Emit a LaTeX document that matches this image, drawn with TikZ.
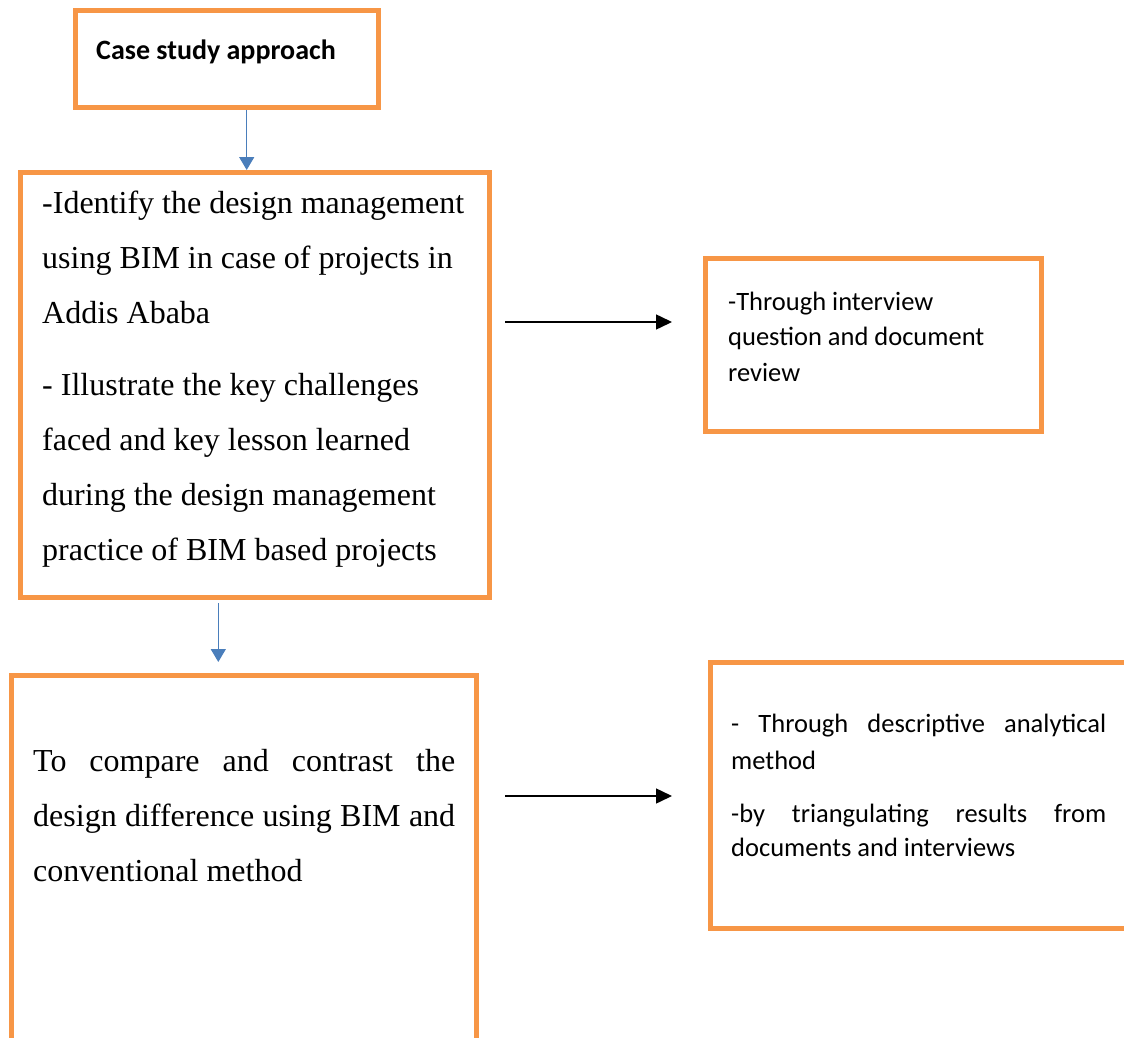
\documentclass[tikz,border=0pt]{standalone}
\usepackage{fontspec}
\setmainfont{Liberation Serif}
\newfontfamily\calibrifont{Carlito}
\usetikzlibrary{arrows.meta}
\definecolor{boxorange}{HTML}{F79646}
\definecolor{flowblue}{HTML}{4A7EBB}

\begin{document}
\begin{tikzpicture}[x=1pt,y=-1pt,
  obox/.style={draw=boxorange, line width=5pt, fill=white, rectangle, inner sep=0pt},
  serifline/.style={anchor=base west, inner sep=0pt, font=\fontsize{32}{38}\selectfont},
  sansline/.style={anchor=base west, inner sep=0pt, font=\calibrifont\fontsize{26.5}{32}\selectfont},
  headline/.style={anchor=base west, inner sep=0pt, font=\calibrifont\bfseries\fontsize{28}{34}\selectfont},
  downarrow/.style={draw=flowblue, line width=1.5pt, -{Triangle[length=13pt,width=15pt]}},
  sidearrow/.style={draw=black, line width=1.5pt, -{Triangle[length=16pt,width=15pt]}}]

\useasboundingbox (0,0) rectangle (1124,1038);
\clip (0,0) rectangle (1124,1038);

% boxes
\node[obox, minimum width=303pt, minimum height=97pt]  (head)  at (227,59)     {};
\node[obox, minimum width=469pt, minimum height=425pt] (obj1)  at (255,385)    {};
\node[obox, minimum width=336pt, minimum height=173pt] (meth1) at (873.5,345)  {};
\node[obox, minimum width=465pt, minimum height=385pt] (obj2)  at (244,868)    {};
\node[obox, minimum width=430pt, minimum height=266pt] (meth2) at (925,795)    {};

% heading
\node[headline] (headtxt) at (96,60) {Case study approach};

% first objective
\node[serifline] (o1a) at (42,213) {-Identify the design management};
\node[serifline] (o1b) at (42,268) {using BIM in case of projects in};
\node[serifline] (o1c) at (42,323) {Addis Ababa};
\node[serifline] (o1d) at (42,395) {- Illustrate the key challenges};
\node[serifline] (o1e) at (42,450) {faced and key lesson learned};
\node[serifline] (o1f) at (42,505) {during the design management};
\node[serifline] (o1g) at (42,560) {practice of BIM based projects};

% first method
\node[sansline] (m1a) at (728,310)   {-Through interview};
\node[sansline] (m1b) at (728,345.5) {question and document};
\node[sansline] (m1c) at (728,381.5) {review};

% second objective
\node[serifline] (o2a) at (33,771.7) {\makebox[422pt][s]{To compare and contrast the}};
\node[serifline] (o2b) at (33,826.7) {\makebox[422pt][s]{design difference using BIM and}};
\node[serifline] (o2c) at (33,881.7) {conventional method};

% second method
\node[sansline] (m2a) at (731,732)   {\makebox[375pt][s]{- Through descriptive analytical}};
\node[sansline] (m2b) at (731,769)   {method};
\node[sansline] (m2c) at (731,822)   {\makebox[375pt][s]{-by triangulating results from}};
\node[sansline] (m2d) at (731,856.7) {documents and interviews};

% connectors
\coordinate (row1) at (0,322);
\coordinate (row2) at (0,796);
\draw[downarrow] ([xshift=19.7pt]head.south) -- ([xshift=19.7pt]head.south |- obj1.north);
\draw[downarrow, shorten <=3pt, shorten >=11pt] ([xshift=-36.7pt]obj1.south) -- ([xshift=-36.7pt]obj1.south |- obj2.north);
\draw[sidearrow, shorten <=13pt, shorten >=31pt] (obj1.east |- row1) -- (meth1.west |- row1);
\draw[sidearrow, shorten <=26pt, shorten >=35.5pt] (obj2.east |- row2) -- (meth2.west |- row2);
\end{tikzpicture}
\end{document}
